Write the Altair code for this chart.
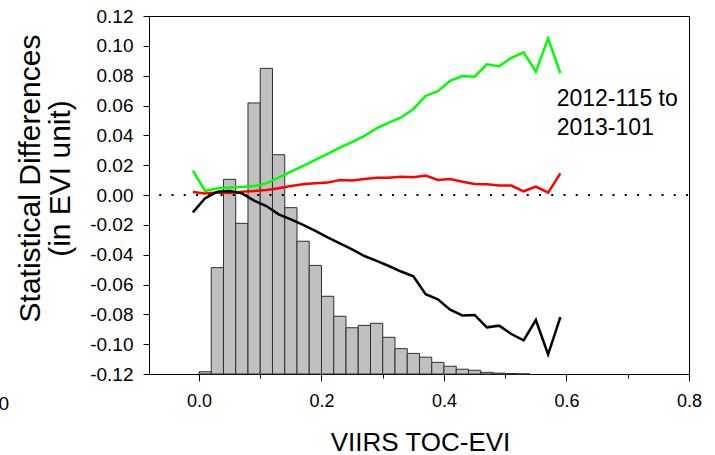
import altair as alt
import pandas as pd

# ---- data ----
bin_start = [0.00, 0.02, 0.04, 0.06, 0.08, 0.10, 0.12, 0.14, 0.16, 0.18,
             0.20, 0.22, 0.24, 0.26, 0.28, 0.30, 0.32, 0.34, 0.36, 0.38,
             0.40, 0.42, 0.44, 0.46, 0.48, 0.50, 0.52]
bin_end = [0.02, 0.04, 0.06, 0.08, 0.10, 0.12, 0.14, 0.16, 0.18, 0.20,
           0.22, 0.24, 0.26, 0.28, 0.30, 0.32, 0.34, 0.36, 0.38, 0.40,
           0.42, 0.44, 0.46, 0.48, 0.50, 0.52, 0.54]
bin_top = [-0.1185, -0.0487, 0.0105, -0.0190, 0.0617, 0.0849, 0.0270, -0.0085, -0.0310, -0.0472,
           -0.0679, -0.0813, -0.0890, -0.0874, -0.0860, -0.0954, -0.1030, -0.1062, -0.1087, -0.1122,
           -0.1148, -0.1168, -0.1175, -0.1189, -0.1194, -0.1197, -0.1199]

evi = [-0.01, 0.01, 0.03, 0.05, 0.07, 0.09, 0.11, 0.13, 0.15, 0.17,
       0.19, 0.21, 0.23, 0.25, 0.27, 0.29, 0.31, 0.33, 0.35, 0.37,
       0.39, 0.41, 0.43, 0.45, 0.47, 0.49, 0.51, 0.53, 0.55, 0.57, 0.59]
green_vals = [0.0163, 0.0027, 0.0045, 0.0051, 0.0053, 0.0060, 0.0078, 0.0116, 0.0156, 0.0195,
              0.0235, 0.0275, 0.0317, 0.0355, 0.0396, 0.0447, 0.0485, 0.0520, 0.0577, 0.0664,
              0.0696, 0.0766, 0.0798, 0.0793, 0.0876, 0.0863, 0.0920, 0.0957, 0.0827, 0.1050, 0.0816]
red_vals = [0.0020, 0.0010, 0.0016, 0.0013, 0.0022, 0.0027, 0.0034, 0.0045, 0.0060, 0.0072,
            0.0078, 0.0083, 0.0101, 0.0097, 0.0107, 0.0116, 0.0116, 0.0123, 0.0119, 0.0131,
            0.0101, 0.0107, 0.0089, 0.0074, 0.0072, 0.0063, 0.0063, 0.0025, 0.0056, 0.0016, 0.0145]
black_vals = [-0.0116, -0.0022, 0.0022, 0.0027, 0.0011, -0.0038, -0.0074, -0.0130, -0.0163, -0.0201,
              -0.0241, -0.0284, -0.0324, -0.0364, -0.0409, -0.0442, -0.0476, -0.0513, -0.0545, -0.0665,
              -0.0700, -0.0769, -0.0807, -0.0804, -0.0887, -0.0876, -0.0932, -0.0974, -0.0838, -0.1068, -0.0818]

x_ticks = [0.0, 0.1, 0.2, 0.3, 0.4, 0.5, 0.6, 0.7, 0.8]
y_ticks = [-0.12, -0.10, -0.08, -0.06, -0.04, -0.02, 0.0, 0.02, 0.04, 0.06, 0.08, 0.10, 0.12]
annotation = ["2012-115 to", "2013-101"]

FONT = "Liberation Sans"
W, H = 540, 358

x_scale = alt.Scale(domain=[-0.0816, 0.8], nice=False, zero=False)
y_scale = alt.Scale(domain=[-0.12, 0.12], nice=False, zero=False)

x_axis = alt.Axis(
    values=x_ticks,
    labelExpr="(round(datum.value*10) % 2 == 0) ? format(datum.value, '.1f') : ''",
    tickSize={"condition": {"test": "round(datum.value*10) % 2 == 0", "value": 7}, "value": 4},
    grid=False, domainColor="black", tickColor="black", tickWidth=1,
    labelFont=FONT, labelFontSize=18, labelColor="black", labelPadding=11,
    labelFlush=False, labelOverlap=False,
    title="VIIRS TOC-EVI", titleFont=FONT, titleFontSize=26, titleFontWeight="normal",
    titleColor="black", titleX=271, titleY=76, titleBaseline="alphabetic", titleAlign="center",
)
y_axis = alt.Axis(
    values=y_ticks,
    labelExpr="(datum.value < -0.00001 ? '-' : '') + format(abs(datum.value), '.2f')",
    tickSize=6, grid=False, domainColor="black", tickColor="black", tickWidth=1,
    labelFont=FONT, labelFontSize=19, labelColor="black", labelPadding=10,
    labelFlush=False, labelOverlap=False, labelSeparation=0, labelBound=False,
    title=["Statistical Differences", "(in EVI unit)"], titleFont=FONT, titleFontSize=30,
    titleFontWeight="normal", titleColor="black", titleAngle=270, titleX=-134, titleY=162,
    titleAlign="center", titleBaseline="top", titleLineHeight=30,
)

bars_df = pd.DataFrame({"x0": bin_start, "x1": bin_end, "top": bin_top})
lines_df = pd.DataFrame({"evi": evi, "green": green_vals, "red": red_vals, "black": black_vals})
one_row = pd.DataFrame({"k": [0]})

bars = alt.Chart(bars_df).mark_bar(
    fill="#c0c0c0", stroke="#303030", strokeWidth=1
).encode(
    x=alt.X("x0:Q", scale=x_scale, axis=x_axis),
    x2="x1:Q",
    y=alt.Y("top:Q", scale=y_scale, axis=y_axis),
    y2=alt.datum(-0.12),
)

zero = alt.Chart(one_row).mark_rule(
    color="black", strokeWidth=2, strokeDash=[2, 10.25], strokeDashOffset=-1
).encode(y=alt.Y("k:Q", scale=y_scale, axis=y_axis))

def line(col, color):
    return alt.Chart(lines_df).mark_line(color=color, strokeWidth=2.5).encode(
        x=alt.X("evi:Q", scale=x_scale, axis=x_axis),
        y=alt.Y(f"{col}:Q", scale=y_scale, axis=y_axis),
    )

ann = alt.Chart(one_row).mark_text(
    text=annotation, align="left", baseline="alphabetic", font=FONT, fontSize=23,
    lineHeight=29, color="black"
).encode(x=alt.X(datum=0.584, scale=x_scale, axis=x_axis),
         y=alt.Y(datum=0.0597, scale=y_scale, axis=y_axis))

stray = alt.Chart(one_row).mark_text(
    text="0", align="right", baseline="alphabetic", font=FONT, fontSize=19, color="black"
).encode(x=alt.value(-140), y=alt.value(394))

chart = alt.layer(
    bars, zero, line("green", "#00ff00"), line("red", "#ff0000"), line("black", "black"), ann, stray
).properties(
    width=W, height=H, background="white",
    autosize=alt.AutoSizeParams(type="none"),
    padding={"left": 149, "top": 16, "right": 26, "bottom": 81},
).configure_view(stroke="black", strokeWidth=1)

chart.save("out.html", embed_options={"renderer": "svg", "actions": False})
